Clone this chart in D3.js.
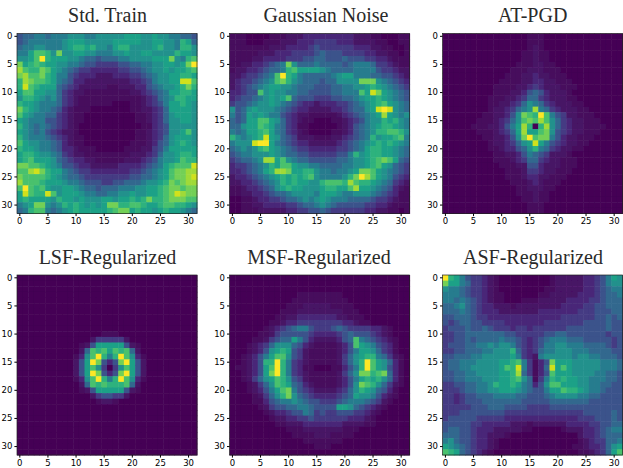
<!DOCTYPE html>
<html>
<head>
<meta charset="utf-8">
<script src="https://d3js.org/d3.v7.min.js"></script>
<style>
body { margin: 0; background: #fff; overflow: hidden; }
.title { font-family: "Liberation Serif", serif; font-size: 20px; fill: #2a2a2a; }
.tick text { font-family: "DejaVu Sans", sans-serif; font-size: 8.5px; fill: #000; }
</style>
</head>
<body>
<svg id="chart" width="623" height="468"></svg>
<script>
// each row is 32 cells, one hex level per cell (0 = low, f = high)
const stdTrain = [
"56677677 78887788 88899988 98877665","56777777 89998888 89999988 99887a96",
"67788777 89aa9a88 79aa8888 9a887aa8","779bba8c 88998877 78898899 8888a998",
"889bfa99 98876656 66778888 999c87ab","c9aba998 87765544 44556677 889989cf",
"dbaacb98 76544333 33445567 889899ab","cdbbca97 75433322 23334456 78899aa9",
"adcbba97 65332222 22223345 78899eeb","aeba9996 54322222 11222335 67889aca",
"9bb99886 43221111 11112234 56799aa9","8aa98786 43211111 11111123 4678aa99",
"a9987776 43211111 10001123 45799a98","ca987765 32111000 00001122 34699998",
"b9877664 32110000 00000112 34689998","98777554 32110000 00000112 34688998",
"a8767654 32100000 00000011 34588888","98767543 22100000 00000112 345889b8",
"a8777654 32110000 00000112 34689998","b9887765 32110000 00001112 35689a98",
"a9987765 33211100 00011122 45799999","9aa98876 43221111 11112223 46889aa9",
"9ab99986 54332211 11122234 57889baa","ccbba987 55433222 22333345 679abbbe",
"bbdeca99 76544333 33334456 789bccdd","cbbbba98 76654444 44445566 789bccde",
"dbbba999 87765554 45566678 89acbcdd","bfbab988 99876656 66777889 9abccbcc",
"9ebaaeb8 99987766 77889889 9abcedcc","9a99998a 99898889 9899a9ac aabcccbb",
"789cc878 a9a98989 ccaabba9 9abbaa98","67abb767 89a99999 abcc9a99 89a99876"
];
const gaussianNoise = [
"11100001 11222333 33333322 21100011","11100011 12223334 44433322 22110011",
"11111112 22333345 44444433 32211001","11111222 33344445 65554444 33221101",
"11112233 33444556 65556555 44332111","11223345 67c86667 66665677 76443211",
"12233456 67ab9999 87666677 77544322","22344567 bfa97666 66789977 76655432",
"23445678 bca87666 5668888c cc876543","23456789 98876665 55667788 9a987654",
"33455b89 88776655 5566777b 9ec98765","34556789 89b65554 44556678 99a98765",
"45567889 87654332 33344567 89ab9876","85689888 76543322 22334566 89efe876",
"75698987 75432211 11123456 789d9878","65699bb9 86432110 00112345 788a9a87",
"66899ba9 76431100 00012356 789aa987","76799ab9 76432100 00112356 78aabba8",
"a8789ae9 86542221 11223456 7a899ab7","7888eff9 76543322 22234567 89a9a987",
"67878ab9 87654433 33344567 9aa99876","56778889 87665544 444557a8 9aa99876",
"456678dd 9b876655 55566788 9abcb965","3445678a 9bb98877 66667788 9ab98654",
"3345679a ddc99aa8 7767789c cb987654","23345678 9a9a9ab8 77778acf db987543",
"22334567 8a9a9988 abbbadba a9876432","11233456 89a99888 9aa99bd9 98765321",
"11223345 66788887 99987788 87654311","00112334 45667878 98777666 65443211",
"00112233 33445667 87655555 44332111","00111222 22334455 65444444 33221101"
];
const atPgd = [
"00000000 00000001 11000000 00000000","00000000 00000001 11000000 00000000",
"00000000 00000001 21000000 00000000","00000000 00000011 21100000 00000000",
"00000000 00000011 21100000 00000000","00000000 00000111 22110000 00000000",
"00000000 00001112 22111000 00000000","00000000 00011122 32211100 00000000",
"00000000 00111122 33221110 00000000","00000000 01111223 43222111 00000000",
"00000000 01112235 65322210 00000000","00000000 11122346 64322211 00000000",
"00000000 11223468 76432221 10000000","00000000 12234678 d7643222 11000000",
"00000001 122358cb afb75422 11100000","00000011 123468bc bdb86432 21110000",
"00000111 223579da 0ad86432 21111000","00000011 123469d9 9bc85432 21110000",
"00000001 122358cf bcc75322 11100000","00000000 12234689 e9754322 11000000",
"00000000 11233568 a7643221 10000000","00000000 01122357 65422210 00000000",
"00000000 01112346 64322111 00000000","00000000 00111225 53222111 00000000",
"00000000 00011124 43221110 00000000","00000000 00011123 32211100 00000000",
"00000000 00001112 32111000 00000000","00000000 00000112 22110000 00000000",
"00000000 00000111 21100000 00000000","00000000 00000011 21100000 00000000",
"00000000 00000001 11000000 00000000","00000000 00000001 11000000 00000000"
];
const lsfReg = [
"00000000 00000000 00000000 00000000","00000000 00000000 00000000 00000000",
"00000000 00000000 00000000 00000000","00000000 00000000 00000000 00000000",
"00000000 00000000 00000000 00000000","00000000 00000000 00000000 00000000",
"00000000 00000000 00000000 00000000","00000000 00000000 00000000 00000000",
"00000000 00000000 00000000 00000000","00000000 00000000 00000000 00000000",
"00000000 00000001 11000000 00000000","00000000 00000244 44420000 00000000",
"00000000 00012599 99952100 00000000","00000000 00026bab 9bab6200 00000000",
"00000000 00138bfa 7afb8310 00000000","00000000 00259fc5 35cf9520 00000000",
"00000000 00259b84 048b9520 00000000","00000000 00259fc5 35cf9520 00000000",
"00000000 00138bfa 7afb8310 00000000","00000000 00026bab aaab6200 00000000",
"00000000 00012599 99952100 00000000","00000000 00000245 54420000 00000000",
"00000000 00000012 21000000 00000000","00000000 00000000 00000000 00000000",
"00000000 00000000 00000000 00000000","00000000 00000000 00000000 00000000",
"00000000 00000000 00000000 00000000","00000000 00000000 00000000 00000000",
"00000000 00000000 00000000 00000000","00000000 00000000 00000000 00000000",
"00000000 00000000 00000000 00000000","00000000 00000000 00000000 00000000"
];
const msfReg = [
"00000000 00000000 00000000 00000000","00000000 00000000 00000000 00000000",
"00000000 00000000 00000000 00000000","00000000 00001111 11110000 00000000",
"00000000 00011111 11111000 00000000","00000000 00111222 22111100 00000000",
"00000000 01112222 22221110 00000000","00000000 11223333 33322111 00000000",
"00000001 12334444 44443321 10000000","00000012 34567754 44565444 43321000",
"00000112 45555543 33345655 54321000","00001124 56697532 222356b7 65432100",
"00012346 88865321 111235b9 87543100","00012358 9a954211 11123579 98643100",
"00123579 bb854211 11124689 aa764210","001235aa fa743211 1112468a fb986310",
"0112359b fa743110 0011357a fb985310","0012359c fa743211 1112468c cabc6310",
"00124689 ba854211 11123579 a9a86310","00012468 ba965321 1112358c ba864210",
"00012357 9bc75432 2223468a 98653100","00001246 8ac86543 33345698 87532100",
"00001135 67787655 44456777 65421000","00000124 55667765 55599865 43210000",
"00000012 33455764 54455544 32100000","00000001 22334454 44444333 21000000",
"00000000 11222333 33332222 11000000","00000000 00111222 22221110 00000000",
"00000000 00011112 22111100 00000000","00000000 00000111 11110000 00000000",
"00000000 00000001 11000000 00000000","00000000 00000000 00000000 00000000"
];
const asfReg = [
"fa975443 21000000 00012222 23345798","c9976443 21000000 00012222 23345788",
"87765443 21000000 00112222 23345677","77765443 21100000 01122222 33345667",
"77676543 21100011 12222233 33445666","66786543 32221222 22222333 34455666",
"66676543 33222222 23333333 44455566","55666544 33333333 33333444 44455656",
"54566554 44433333 33444444 45555655","45556556 54443443 44444455 55555655",
"44556666 66655444 44556655 55555455","44556566 66766543 45677766 65555545",
"45556677 87887543 45778877 76666545","44556667 7888a643 46778887 77666655",
"55666778 88889743 27888887 88776665","56677788 8899ab74 135c9998 88887776",
"56677888 889bae74 136e9b98 88887776","55667788 8899ad64 135b9998 88877665",
"55667778 8899ab86 147a9a99 88777665","44556677 8a99a976 358bb999 88776655",
"44456677 88999876 55799baa 98776555","44345566 67777665 55678888 77665555",
"44345556 66666655 55566666 66555555","44444555 66655554 44455555 55555555",
"44455555 55544444 44444444 45555565","45555544 44433333 33333333 44455565",
"55555443 33332221 22222233 33445566","56655433 32222211 00000122 23345677",
"66655433 22210000 00000000 23345666","78655433 21000000 00000000 12344667",
"98765433 21000000 00000001 12334689","ba965432 10000000 00000000 1123469b"
];
const titles = ["Std. Train", "Gaussian Noise", "AT-PGD", "LSF-Regularized", "MSF-Regularized", "ASF-Regularized"];
const grids = [stdTrain, gaussianNoise, atPgd, lsfReg, msfReg, asfReg];
const tickLabels = [0, 5, 10, 15, 20, 25, 30];

const svg = d3.select("#chart");
const size = 180;
const colX = [17, 229.6, 442.6];
const rowY = [33.5, 275];
const titleY = [22, 264];
const titleX = [107.5, 326, 532.7, 107.5, 319, 533];

// the reference is a resampled bitmap, so soften the cells a little
svg.append("defs").append("filter").attr("id", "soft")
    .append("feGaussianBlur").attr("stdDeviation", 0.35);

const idx = d3.range(32);
const x = d3.scaleBand().domain(idx).range([0, size]);
const y = d3.scaleBand().domain(idx).range([0, size]);
// levels were read by eye, low ones need pushing down to match the dark end
const level = d3.scaleLinear().domain([0, 2, 4, 8, 15]).range([0, 0.05, 0.17, 0.5, 1]);
const color = d => d3.interpolateViridis(level(d));

grids.forEach((grid, i) => {
    const g = svg.append("g")
        .attr("transform", `translate(${colX[i % 3]},${rowY[Math.floor(i / 3)]})`);

    const cells = grid.flatMap((row, r) =>
        row.replace(/ /g, "").split("").map((ch, c) => ({ r, c, v: parseInt(ch, 16) })));

    g.append("g").attr("filter", "url(#soft)")
        .selectAll("rect")
        .data(cells)
        .enter().append("rect")
        .attr("x", d => x(d.c))
        .attr("y", d => y(d.r))
        .attr("width", x.bandwidth() + 0.5)
        .attr("height", y.bandwidth() + 0.5)
        .attr("fill", d => color(d.v));

    g.append("rect")
        .attr("width", size).attr("height", size)
        .attr("fill", "none").attr("stroke", "#222").attr("stroke-width", 0.7);

    const xAxis = d3.axisBottom(x).tickValues(tickLabels).tickSize(2.6).tickPadding(2);
    const yAxis = d3.axisLeft(y).tickValues(tickLabels).tickSize(2.6).tickPadding(2);
    g.append("g").attr("transform", `translate(0,${size})`).call(xAxis)
        .call(a => a.select(".domain").remove());
    g.append("g").call(yAxis)
        .call(a => a.select(".domain").remove());

    svg.append("text").attr("class", "title")
        .attr("x", titleX[i])
        .attr("y", titleY[Math.floor(i / 3)])
        .attr("text-anchor", "middle")
        .text(titles[i]);
});
</script>
</body>
</html>
